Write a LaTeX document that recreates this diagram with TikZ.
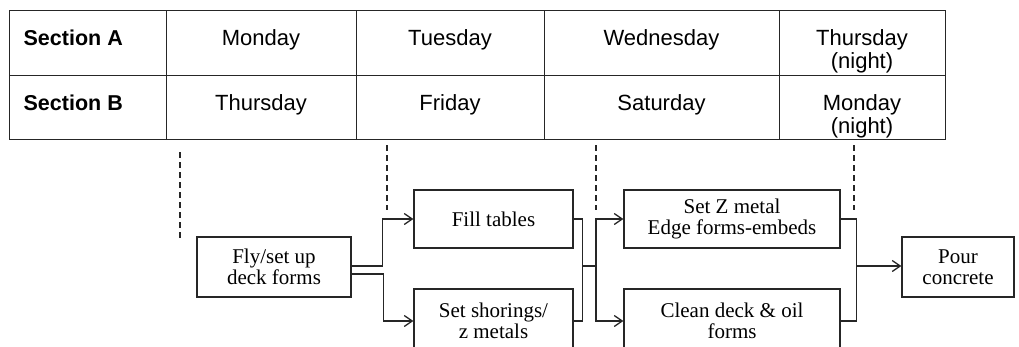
\documentclass[tikz,border=0pt]{standalone}
\usepackage{fontspec}
\setmainfont{Liberation Serif}
\newfontfamily\arialf{Liberation Sans}
\usetikzlibrary{arrows.meta}
\begin{document}
\begin{tikzpicture}[x=1pt,y=-1pt, line width=1.3pt,
  cell/.style={draw=black!85, minimum height=64.5pt, anchor=north west, inner sep=0pt, line width=1.3pt},
  tlabel/.style={anchor=north, inner sep=0pt, align=center, font=\arialf\fontsize{22}{23}\selectfont},
  hlabel/.style={anchor=north west, inner sep=0pt, font=\arialf\bfseries\fontsize{21.5}{23}\selectfont},
  taskbox/.style={draw=black!85, line width=1.3pt, inner sep=0pt, align=center, font=\fontsize{21}{21}\selectfont},
  arr/.style={draw=black!85, -{Straight Barb[length=8pt,width=11pt]}},
  conn/.style={draw=black!85},
  guide/.style={draw=black!85, line width=1.1pt, dash pattern=on 6pt off 4pt}
]
\useasboundingbox (0,0) rectangle (1019,346);
\clip (0,0) rectangle (1019,346);

% table cells
\node[cell, minimum width=157pt] (a0) at (9,10) {};
\node[cell, minimum width=190pt] (a1) at (166,10) {};
\node[cell, minimum width=188pt] (a2) at (356,10) {};
\node[cell, minimum width=235pt] (a3) at (544,10) {};
\node[cell, minimum width=166pt] (a4) at (779,10) {};
\node[cell, minimum width=157pt] (b0) at (9,74.5) {};
\node[cell, minimum width=190pt] (b1) at (166,74.5) {};
\node[cell, minimum width=188pt] (b2) at (356,74.5) {};
\node[cell, minimum width=235pt] (b3) at (544,74.5) {};
\node[cell, minimum width=166pt] (b4) at (779,74.5) {};

% table texts
\node[hlabel] (ta0) at (23,29) {Section A};
\node[tlabel] (ta1) at (261,29) {Monday};
\node[tlabel] (ta2) at (450,29) {Tuesday};
\node[tlabel] (ta3) at (661.5,29) {Wednesday};
\node[tlabel] (ta4) at (862,29) {Thursday\\(night)};
\node[hlabel] (tb0) at (23,94) {Section B};
\node[tlabel] (tb1) at (261,94) {Thursday};
\node[tlabel] (tb2) at (450,94) {Friday};
\node[tlabel] (tb3) at (661.5,94) {Saturday};
\node[tlabel] (tb4) at (862,94) {Monday\\(night)};

% dashed guides
\coordinate (g1a) at (180,152); \coordinate (g1b) at (180,238);
\coordinate (g2a) at (387,145); \coordinate (g2b) at (387,210);
\coordinate (g3a) at (596,145); \coordinate (g3b) at (596,210);
\coordinate (g4a) at (854,145); \coordinate (g4b) at (854,210);
\draw[guide] (g1a) -- (g1b);
\draw[guide] (g2a) -- (g2b);
\draw[guide] (g3a) -- (g3b);
\draw[guide] (g4a) -- (g4b);

% task boxes
\node[taskbox, minimum width=154pt, minimum height=60pt] (fly) at (274,267) {Fly/set up\\deck forms};
\node[taskbox, minimum width=159pt, minimum height=58pt] (fill) at (493.5,219) {Fill tables};
\node[taskbox, minimum width=159pt, minimum height=64pt] (shor) at (493.5,321) {Set shorings/\\z metals};
\node[taskbox, minimum width=216pt, minimum height=58pt] (setz) at (732,219) {Set Z metal\\Edge forms-embeds};
\node[taskbox, minimum width=216pt, minimum height=64pt] (clean) at (732,321) {Clean deck \& oil\\forms};
\node[taskbox, minimum width=112pt, minimum height=60pt] (pour) at (958,267) {Pour\\concrete};

% connectors
\draw[arr] ([yshift=1pt]fly.east) -- ++(31,0) |- (fill.west);
\draw[arr] ([yshift=-7pt]fly.east) -- ++(32,0) |- (shor.west);

\draw[conn] (fill.east) -- ++(9,0) |- (shor.east);
\coordinate (j1) at (582,266);
\coordinate (s1) at (596,266);
\draw[conn] (j1) -- (s1);
\draw[arr] (s1) |- (setz.west);
\draw[arr] (s1) |- (clean.west);

\draw[conn] (setz.east) -- ++(16,0) |- (clean.east);
\coordinate (j2) at (856,266);
\draw[arr] (j2) -- (j2 -| pour.west);
\end{tikzpicture}
\end{document}
